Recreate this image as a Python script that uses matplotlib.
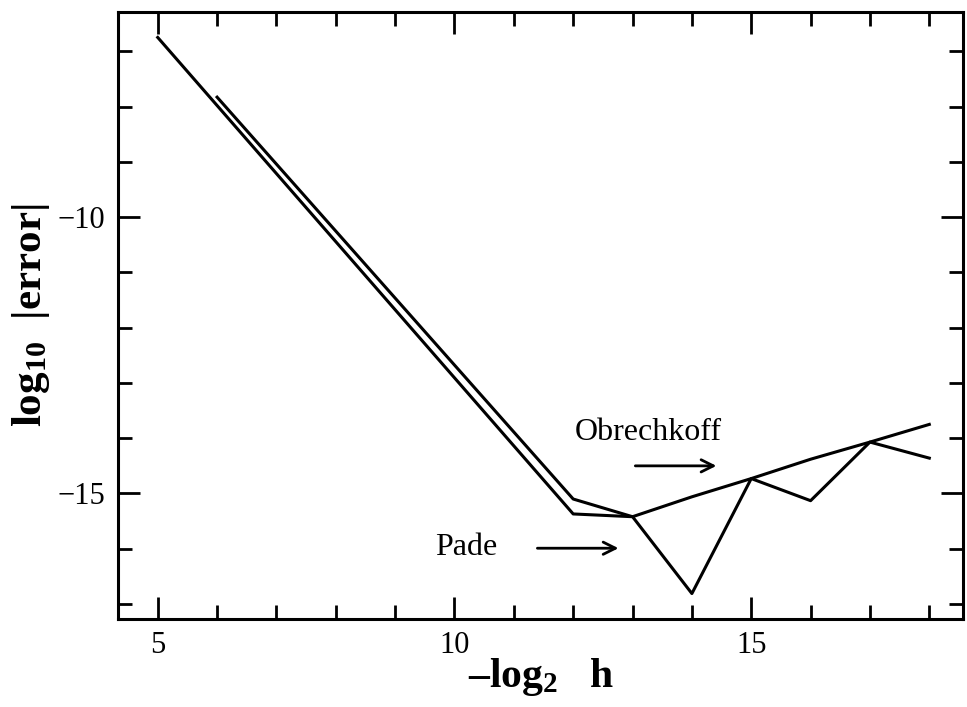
# error vs step size for the Pade and Obrechkoff schemes

import matplotlib
matplotlib.use("Agg")
import matplotlib.pyplot as plt
from matplotlib.ticker import MultipleLocator

plt.rcParams["font.family"] = ["Liberation Serif", "DejaVu Serif"]
plt.rcParams["mathtext.fontset"] = "custom"
plt.rcParams["mathtext.rm"] = "Liberation Serif"
plt.rcParams["mathtext.bf"] = "Liberation Serif:bold"
plt.rcParams["mathtext.default"] = "bf"

# the line that dips at 14 (starts at 5)
pade_x = [5, 12, 13, 14, 15, 16, 17, 18]
pade_y = [-6.75, -15.37, -15.42, -16.81, -14.73, -15.13, -14.07, -14.36]

# the smoother upper line (starts at 6)
obr_x = [6, 12, 13, 14, 15, 16, 17, 18]
obr_y = [-7.83, -15.10, -15.42, -15.06, -14.73, -14.38, -14.07, -13.75]

fig = plt.figure(figsize=(9.67, 7.07), dpi=100)
ax = fig.add_axes([0.122, 0.1245, 0.874, 0.8585])

ax.plot(pade_x, pade_y, color="black", lw=2.2)
ax.plot(obr_x, obr_y, color="black", lw=2.2)

ax.set_xlim(4.33, 18.57)
ax.set_ylim(-17.27, -6.29)

ax.xaxis.set_major_locator(MultipleLocator(5))
ax.xaxis.set_minor_locator(MultipleLocator(1))
ax.yaxis.set_major_locator(MultipleLocator(5))
ax.yaxis.set_minor_locator(MultipleLocator(1))
ax.tick_params(which="both", direction="in", top=True, right=True,
               width=2, labelsize=22, pad=9)
ax.tick_params(which="major", length=16)
ax.tick_params(which="minor", length=10)
for s in ax.spines.values():
    s.set_linewidth(2.2)

ax.set_xlabel("\u2013log$_2$   h", fontsize=30, fontweight="bold", labelpad=-3)
ax.set_ylabel("log$_{10}$  |error|", fontsize=31, fontweight="bold", labelpad=4)

# labels with arrows
ax.text(13.27, -13.89, "Obrechkoff", fontsize=23, ha="center", va="center")
ax.annotate("", xy=(14.46, -14.50), xytext=(13.0, -14.50),
            arrowprops=dict(arrowstyle="->", lw=2, color="black",
                            mutation_scale=22))
ax.text(10.19, -15.97, "Pade", fontsize=23, ha="center", va="center")
ax.annotate("", xy=(12.81, -15.99), xytext=(11.35, -15.99),
            arrowprops=dict(arrowstyle="->", lw=2, color="black",
                            mutation_scale=22))

plt.savefig("out.png", dpi=100)
